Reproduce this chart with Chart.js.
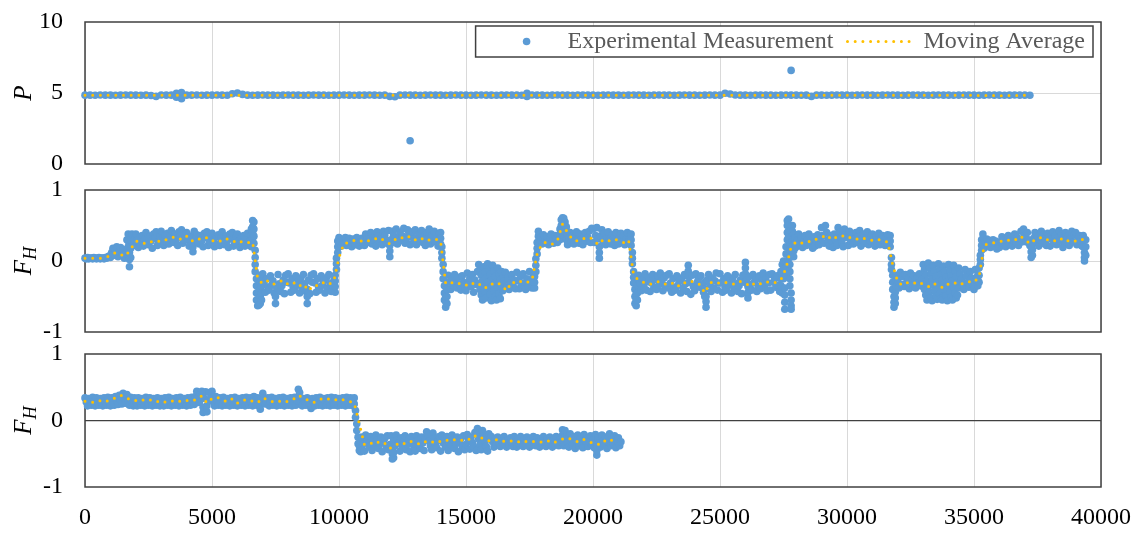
<!DOCTYPE html>
<html>
<head>
<meta charset="utf-8">
<title>P and F_H records</title>
<script src="https://cdn.jsdelivr.net/npm/chart.js@4.4.0/dist/chart.umd.min.js"></script>
<style>
  html, body { margin: 0; padding: 0; background: #ffffff; }
  #wrap { position: relative; width: 1132px; height: 533px; overflow: hidden; }
  #wrap canvas { position: absolute; left: 0; top: 0; }
</style>
</head>
<body>
<div id="wrap">
  <canvas id="cP" width="1132" height="533"></canvas>
  <canvas id="cF1" width="1132" height="533"></canvas>
  <canvas id="cF2" width="1132" height="533"></canvas>
</div>
<script>
// ---- axis ticks and series names ----
const X_TICKS = [0, 5000, 10000, 15000, 20000, 25000, 30000, 35000, 40000];
const X_TICK_LABELS = ['0', '5000', '10000', '15000', '20000', '25000', '30000', '35000', '40000'];
const P_TICKS = [0, 5, 10];
const P_TICK_LABELS = ['0', '5', '10'];
const FH_TICKS = [-1, 0, 1];
const FH_TICK_LABELS = ['-1', '0', '1'];
const SERIES_NAMES = ['Experimental Measurement', 'Moving Average'];

// sample spacing along the x axis
const P_SAMPLE_STEP = 200;
const P_AVG_STEP = 1200;
const FH_SAMPLE_STEP = 50;
const FH_AVG_STEP = 200;

// Measured samples: one entry per bin; a bin holding several readings is a list.
const pMeasured = [
  4.85,4.85,4.84,4.86,4.85,4.85,4.84,4.85,4.86,4.85,
  4.85,4.84,4.85,4.82,4.76,4.86,4.85,4.85,[4.98,4.7],[5.03,4.6],
  4.85,4.85,4.86,4.84,4.85,4.85,4.86,4.85,4.84,4.95,
  5.0,4.9,4.85,4.84,4.85,4.86,4.85,4.85,4.84,4.85,
  4.86,4.85,4.85,4.84,4.85,4.86,4.85,4.85,4.84,4.85,
  4.85,4.86,4.85,4.84,4.85,4.85,4.86,4.85,4.84,4.85,
  4.76,4.74,4.85,4.86,[4.85,1.64],4.85,4.84,4.85,4.86,4.85,
  4.85,4.84,4.85,4.86,4.85,4.85,4.84,4.85,4.86,4.85,
  4.85,4.84,4.85,4.86,4.85,4.85,4.84,[4.98,4.75],4.86,4.85,
  4.85,4.84,4.85,4.86,4.85,4.85,4.84,4.85,4.86,4.85,
  4.85,4.84,4.85,4.86,4.85,4.85,4.84,4.85,4.86,4.85,
  4.85,4.84,4.85,4.86,4.85,4.85,4.84,4.85,4.86,4.85,
  4.85,4.84,4.85,4.86,4.85,4.85,4.98,4.93,4.86,4.85,
  4.85,4.84,4.85,4.86,4.85,4.85,4.84,4.85,4.86,[4.85,6.59],
  4.85,4.84,4.85,4.76,4.85,4.85,4.84,4.85,4.86,4.85,
  4.85,4.84,4.85,4.86,4.85,4.85,4.84,4.85,4.86,4.85,
  4.85,4.84,4.85,4.86,4.85,4.85,4.84,4.85,4.86,4.85,
  4.85,4.84,4.85,4.86,4.85,4.85,4.84,4.85,4.86,4.85,
  4.85,4.84,4.85,4.86,4.85,4.85,4.84
];
const pAverage = [
  4.85,4.85,4.85,4.85,4.85,4.85,4.85,4.85,4.85,4.85,
  4.85,4.85,4.85,4.85,4.85,4.85,4.85,4.85,4.85,4.85,
  4.85,4.85,4.85,4.85,4.85,4.85,4.85,4.85,4.85,4.84,
  4.81,4.84
];

// middle panel, one line per 1000 units of x
const fh1Measured = [
  .04,.03,.05,.03,.04,.04,.03,.05,.04,.03,.04,.05,.03,.04,.04,.03,.05,.04,.06,.07,
  .05,.12,.18,.08,.15,.20,.06,.13,.19,.09,.16,.04,.10,.30,[.38,.28,.2],[-.08,.02,.12],[.05,.18,.3],.38,.22,.30,
  .38,.28,.19,.33,.23,.36,.21,.31,.40,.26,.23,.35,.28,.18,.38,.32,.41,.22,.27,.35,
  .42,.32,.22,.37,.27,.39,.24,.34,.43,.29,.26,.38,.31,.22,.41,.35,.44,.25,.30,.38,
  .40,.30,.21,.35,.25,[.13,.2],.42,.31,.37,.26,.24,.36,.29,.20,.39,.33,.41,.22,.27,.35,
  .39,.29,.20,.34,.24,.37,.22,.32,.41,.27,.23,.35,.28,.19,.38,.32,.40,.21,.26,.34,
  .38,.28,.19,.33,.23,.36,.21,.31,.39,.26,.28,[.45,.36,.2],[.57,.48,.4,.32],[.55,.45,.35,.25],[.15,.05,-.05,-.15],[-.25,-.35,-.45,-.55],[-.63,-.55,-.45,-.35],[-.62,-.52,-.42,-.32],[-.6,-.5,-.4,-.3,-.2],[-.55,-.45,-.35,-.25],
  -.18,-.31,-.44,-.25,-.37,-.41,-.21,-.34,-.28,-.45,[-.6,-.5],-.38,-.19,-.32,-.43,-.35,-.27,-.46,-.20,-.30,
  -.18,-.31,-.44,-.25,-.37,-.41,-.21,-.34,-.28,-.45,-.24,-.38,-.19,-.32,-.43,[-.6,-.5,-.4],-.27,-.46,-.20,-.30,
  -.18,-.31,-.44,-.25,-.37,-.41,-.21,-.34,-.28,-.45,-.24,-.38,-.19,-.32,-.43,-.35,-.27,[-.44,-.36,-.28,-.2],[-.12,-.04,.04],[.12,.2,.28],
  [.33,.25,.2],.27,.21,.30,.24,.33,.22,.28,.32,.25,.20,.31,.26,.23,.33,.29,.21,.27,.32,.24,
  .22,.38,.30,.26,.34,.40,.24,.33,.28,.21,.41,.35,.27,.31,.23,.42,.36,.29,.25,.43,
  [.06,.14,.22],.30,.42,.36,.26,.45,.24,.33,.40,.29,.35,.46,.25,.31,.44,.38,.23,.34,.41,.28,
  .44,.23,.33,.38,.28,.43,.26,.35,.22,.40,.31,.45,.24,.36,.29,.42,.27,.33,.21,.39,
  [.4,.32,.24],[.2,.12,.04],[-.05,-.15,-.25],[-.35,-.45,-.55],[-.65,-.57,-.5],[-.6,-.5,-.4,-.3],-.20,-.30,-.40,-.25,-.35,-.19,-.28,-.38,-.23,-.33,-.41,-.21,-.30,-.36,
  -.42,-.17,-.30,-.24,-.36,-.19,-.44,-.27,-.33,-.15,[-.05,-.32],[-.12,-.40],[-.20,-.48],[-.28,-.55],[-.08,-.36],[-.16,-.44],[-.24,-.52],[-.04,-.30],[-.11,-.38],[-.19,-.47],
  [-.27,-.56],[-.06,-.34],[-.14,-.42],[-.22,-.50],[-.30,-.55],[-.10,-.38],[-.18,-.46],[-.26,-.53],[-.15,-.35],[-.22,-.42],-.28,-.16,-.37,-.24,-.40,-.31,-.19,-.34,-.27,-.39,
  -.16,-.28,-.39,-.22,-.34,-.18,-.31,-.40,-.25,-.36,-.15,-.29,-.38,-.21,[-.38,-.3,-.22],[-.15,-.06,.03],[.1,.18,.26],[.35,.42],.25,.33,
  .24,.37,.30,.27,.34,.23,.32,.38,.28,.25,.36,.31,.26,.35,[.45,.38,.3],[.58,.5,.42],[.61,.53,.45],[.6,.52,.44,.36],[.55,.47,.4],[.48,.4,.3],
  .23,.32,.40,.27,.36,.24,.34,.41,.29,.25,.38,.31,.23,.35,.40,.28,.33,.42,.26,.46,
  .45,.26,.36,.47,.31,[.04,.12,.2],.35,.44,.27,.39,.23,.33,.41,.29,.24,.37,.32,.22,.40,.28,
  .24,.33,.39,.28,.36,.23,.31,.40,.27,.35,[.38,.3,.22],[.12,.04,-.04],[-.15,-.23,-.31],[-.4,-.5,-.6],[-.63,-.55,-.47],[-.55,-.45,-.35,-.25],-.20,-.31,-.42,-.26,
  -.36,-.18,-.41,-.29,-.23,-.43,-.31,-.19,-.37,-.26,-.40,-.21,-.33,-.17,-.28,-.42,-.24,-.35,-.20,-.38,
  -.18,-.31,-.44,-.25,-.37,-.41,-.21,-.34,-.28,-.45,-.24,-.38,-.19,-.32,-.43,[-.06,-.14,-.22],-.30,-.47,-.20,-.36,
  -.42,-.18,-.30,-.25,-.37,-.21,-.34,-.44,[-.5,-.4,-.3],[-.65,-.57,-.5],-.27,-.19,-.33,-.43,-.24,-.38,-.28,-.17,-.41,-.31,
  -.18,-.31,-.44,-.25,-.37,-.41,-.21,-.34,-.28,-.45,-.24,-.38,-.19,-.32,-.43,-.35,-.27,-.46,-.20,-.30,
  [-.02,-.1,-.18],-.27,[-.52,-.44,-.36],-.22,-.33,-.41,-.19,-.30,-.26,-.43,-.36,-.21,-.39,-.28,-.17,-.34,-.24,-.42,-.31,-.19,
  -.41,-.18,-.30,-.25,-.37,-.21,-.34,-.43,[-.15,-.25,-.35],[-.05,-.45,-.25],[-.25,-.12,0],[-.68,-.58,-.48,-.38],[-.2,-.1,0,.1,.2],[.3,.4,.5,.57],[.59,.5,.42,.34],[.25,.15,.05,-.05,-.15,-.25,-.35],[-.45,-.55,-.63,-.68],[.5,.42,.35,.28,.2],[.38,.3,.22,.14,.06],[.32,.24,.18],
  .20,.29,.38,.24,.33,.19,.27,.36,.22,.31,.38,.25,.30,.18,.34,.21,.28,.37,.23,.32,
  .47,.36,.25,.50,.40,.30,.21,.36,.28,.19,.38,.30,.22,.47,.40,.33,.26,.20,.45,.37,
  .33,.22,.42,.28,.37,.24,.31,.40,.26,.35,.43,.21,.30,.38,.25,.34,.41,.23,.29,.36,
  .38,.29,.21,.34,.25,.39,.23,.31,.36,.27,.22,.33,.37,.28,[.36,.28,.2],[.05,-.05,-.12],[-.2,-.3,-.4],[-.5,-.58,-.65],[-.6,-.52,-.44],[-.35,-.27,-.2],
  -.28,-.38,-.16,-.33,-.22,-.36,-.19,-.30,-.25,-.39,-.17,-.27,-.34,-.21,-.38,-.24,-.31,-.18,-.35,-.26,
  [-.05,-.32],[-.12,-.40],[-.20,-.48],[-.28,-.55],[-.03,-.36],[-.10,-.44],[-.18,-.52],[-.26,-.56],[-.06,-.34],[-.14,-.42],[-.22,-.50],[-.30,-.54],[-.04,-.38],[-.11,-.46],[-.19,-.53],[-.27,-.55],[-.07,-.33],[-.15,-.41],[-.23,-.49],[-.29,-.56],
  [-.05,-.35],[-.13,-.43],[-.21,-.51],[-.28,-.55],[-.06,-.37],[-.14,-.45],[-.22,-.52],[-.30,-.48],[-.10,-.38],-.18,-.26,-.34,-.40,-.12,-.21,-.30,-.37,-.15,-.24,-.33,
  -.40,-.12,-.24,[-.35,-.27,-.2],[-.3,-.2,-.1],[-.05,.02,.08],[.15,.22,.3],[.38,.31,.25],.18,.27,.31,.22,.29,.19,.25,.30,.21,.28,.17,.24,
  .19,.27,.34,.23,.30,.20,.28,.36,.24,.32,.21,.29,.38,.25,.33,.22,.31,.42,.27,.45,
  .36,.27,.40,.30,.22,[.05,.13,.2],[.08,.16,.24],.32,.40,.26,.35,.21,.30,.42,.25,.37,.28,.22,.39,.33,
  .21,.31,.41,.26,.36,.23,.33,.43,.28,.38,.19,.30,.40,.25,.35,.22,.32,.42,.27,.37,
  .40,.23,.31,.36,.27,.21,[.36,.28,.2],[.12,.05,0],[.3,.2,.08]
];
const fh1Average = [
  0.04,0.04,0.04,0.04,0.05,0.08,0.12,0.09,0.07,0.17,
  0.28,0.27,0.24,0.27,0.29,0.27,0.30,0.33,0.34,0.30,
  0.35,0.28,0.32,0.30,0.33,0.28,0.30,0.27,0.31,0.29,
  0.25,0.28,0.26,0.27,-0.25,-0.32,-0.28,-0.33,-0.30,-0.27,
  -0.33,-0.30,-0.36,-0.32,-0.42,-0.34,-0.35,-0.30,-0.33,-0.28,
  0.05,0.25,0.26,0.29,0.27,0.30,0.28,0.31,0.33,0.28,
  0.24,0.30,0.34,0.31,0.35,0.30,0.33,0.28,0.30,0.31,
  0.28,-0.32,-0.30,-0.33,-0.31,-0.34,-0.30,-0.35,-0.32,-0.38,
  -0.33,-0.30,-0.34,-0.42,-0.29,-0.32,-0.28,-0.30,-0.27,0.10,
  0.25,0.27,0.24,0.29,0.52,0.40,0.30,0.28,0.31,0.34,
  0.31,0.23,0.30,0.28,0.31,0.29,0.26,0.30,-0.20,-0.27,
  -0.30,-0.33,-0.31,-0.29,-0.32,-0.34,-0.30,-0.36,-0.31,-0.28,
  -0.30,-0.33,-0.45,-0.31,-0.29,-0.32,-0.30,-0.31,-0.33,-0.29,
  -0.31,-0.36,-0.30,-0.32,-0.29,-0.31,-0.30,-0.26,-0.10,0.20,
  0.27,0.25,0.28,0.27,0.31,0.33,0.37,0.30,0.34,0.36,
  0.32,0.34,0.31,0.33,0.30,0.29,0.31,0.28,0.27,-0.05,
  -0.30,-0.34,-0.30,-0.32,-0.29,-0.33,-0.36,-0.31,-0.35,-0.38,
  -0.32,-0.30,-0.34,-0.31,-0.29,-0.30,-0.22,0.22,0.25,0.26,
  0.28,0.27,0.30,0.29,0.35,0.31,0.24,0.30,0.33,0.29,
  0.31,0.28,0.32,0.27,0.30,0.28,0.31,0.29
];

// bottom panel, one line per 1000 units of x
const fh2Measured = [
  .34,.28,.22,.33,.27,.23,.35,.29,.22,.34,.28,.23,.33,.27,.22,.34,.29,.23,.35,.28,
  .22,.34,.28,.23,.36,.30,.24,.38,.31,.25,.41,.33,.26,.39,.30,.23,.35,.28,.22,.34,
  .28,.22,.34,.29,.23,.33,.27,.22,.35,.28,.23,.34,.29,.22,.33,.27,.23,.34,.28,.22,
  .33,.27,.22,.34,.28,.23,.35,.29,.22,.33,.27,.23,.34,.28,.22,.35,.29,.23,.33,.28,
  .22,.34,.29,.23,.35,.28,.24,.36,.44,.34,.27,.40,.44,[.12,.2],.33,.43,[.13,.22],.30,.42,.34,
  .44,.28,.22,.36,.29,.23,.34,.28,.22,.35,.29,.23,.33,.27,.22,.34,.28,.23,.35,.29,
  .22,.33,.28,.23,.34,.29,.22,.35,.28,.23,.34,.27,.22,.36,.30,.23,.34,.29,[.17,.23],.33,
  .41,.33,.25,.28,.34,.22,.29,.35,.23,.28,.33,.22,.29,.34,.23,.28,.35,.22,.29,.33,
  .23,.28,.34,.22,.29,.35,.23,.30,[.47,.36],.42,.28,.22,.33,.28,.23,.34,.29,.22,[.18,.25],.33,
  .28,.22,.34,.29,.23,.35,.28,.22,.33,.29,.23,.34,.28,.22,.35,.29,.23,.34,.28,.22,
  .33,.28,.23,.34,.29,.22,.35,.28,.23,.34,.29,.22,[.34,.25],[.15,.05],[-.05,-.15],[-.25,-.35],[-.45,-.38],[-.47,-.3],[-.42,-.25],-.35,
  -.46,-.22,-.34,-.28,-.40,-.24,-.45,-.31,-.37,-.22,-.29,-.42,-.35,-.25,-.47,-.33,-.27,-.39,-.23,-.44,
  -.36,-.23,[-.58,-.5,-.42],[-.56,-.48,-.3],-.38,-.22,-.30,-.34,-.46,-.26,-.41,-.31,-.23,-.44,-.36,-.28,-.47,-.24,-.33,-.40,
  -.46,-.23,-.30,-.36,-.42,-.25,-.34,-.45,-.28,-.17,-.22,-.31,-.38,-.44,-.19,-.27,-.35,-.41,-.30,-.24,
  -.46,-.22,-.34,-.28,-.40,-.24,-.45,-.31,-.37,-.22,-.29,-.42,-.35,-.25,-.47,-.33,-.27,-.39,-.23,-.44,
  -.36,-.21,-.29,-.43,-.25,-.33,-.39,-.18,-.45,[-.12,-.2],-.28,-.36,-.44,-.15,-.23,-.31,-.39,-.46,-.20,-.28,
  -.24,-.32,-.40,-.28,-.36,-.25,-.33,-.39,-.27,-.35,-.24,-.31,-.40,-.29,-.37,-.26,-.34,-.39,-.24,-.32,
  -.40,-.28,-.36,-.24,-.33,-.39,-.27,-.35,-.25,-.31,-.40,-.29,-.37,-.24,-.34,-.38,-.26,-.32,-.40,-.28,
  -.36,-.24,-.33,-.39,-.27,-.35,-.25,-.31,-.40,-.29,-.37,-.24,-.34,-.38,-.26,-.32,[-.14,-.22,-.3],-.38,[-.15,-.25,-.35],-.28,
  -.33,-.40,-.20,-.28,-.36,-.24,-.42,-.31,-.22,-.38,-.27,-.35,-.41,-.21,-.30,-.26,-.39,-.33,-.23,-.37,
  -.29,-.41,-.21,[-.52,-.45,-.38],-.27,-.34,-.40,-.22,-.30,-.36,-.25,-.42,-.32,-.20,-.38,-.28,-.35,-.23,-.41,-.31,
  -.26,-.38,-.32
];
const fh2Average = [
  0.29,0.28,0.27,0.30,0.28,0.32,0.34,0.38,0.35,0.31,
  0.30,0.32,0.29,0.31,0.28,0.30,0.27,0.29,0.31,0.28,
  0.30,0.29,0.32,0.37,0.26,0.33,0.35,0.31,0.28,0.33,
  0.26,0.30,0.32,0.29,0.27,0.34,0.31,0.28,0.30,0.27,
  0.29,0.32,0.38,0.34,0.30,0.27,0.31,0.34,0.32,0.30,
  0.33,0.31,0.29,0.26,-0.05,-0.36,-0.33,-0.36,-0.31,-0.34,
  -0.42,-0.38,-0.33,-0.35,-0.31,-0.33,-0.36,-0.32,-0.34,-0.30,
  -0.32,-0.29,-0.31,-0.28,-0.30,-0.27,-0.29,-0.22,-0.26,-0.30,
  -0.31,-0.29,-0.32,-0.30,-0.31,-0.33,-0.30,-0.32,-0.31,-0.33,
  -0.32,-0.30,-0.34,-0.31,-0.28,-0.26,-0.29,-0.32,-0.28,-0.31,
  -0.34,-0.36,-0.30,-0.33,-0.28,-0.31
];

// ---- styling ----
const FONT = '"Liberation Serif", "Times New Roman", serif';
const BLUE = '#5b9bd5';
const GOLD = '#ffc000';
const GRID = '#d9d9d9';
const FRAME = '#404040';
const W = 1132, H = 533;
const PLOT_LEFT = 85, PLOT_RIGHT = 1101;

// turn binned readings into {x, y} points
function binsToPoints(bins, step) {
  const pts = [];
  bins.forEach((b, i) => {
    (Array.isArray(b) ? b : [b]).forEach(v => pts.push({ x: i * step, y: v }));
  });
  return pts;
}

// box around each plot area, under the markers
const framePlugin = {
  id: 'plotFrame',
  beforeDatasetsDraw(chart) {
    const { ctx, chartArea: a } = chart;
    ctx.save();
    ctx.strokeStyle = FRAME;
    ctx.lineWidth = 1.5;
    ctx.strokeRect(a.left, a.top, a.right - a.left, a.bottom - a.top);
    ctx.restore();
  }
};

// rotated italic axis title with optional subscript
const axisTitlePlugin = {
  id: 'axisTitle',
  afterDraw(chart, args, opts) {
    const { ctx, chartArea: a } = chart;
    const cy = (a.top + a.bottom) / 2;
    const mainFont = 'italic 25px ' + FONT;
    const subFont = 'italic 18px ' + FONT;
    ctx.save();
    ctx.translate(opts.x, cy);
    ctx.rotate(-Math.PI / 2);
    ctx.fillStyle = '#000';
    ctx.textBaseline = 'alphabetic';
    ctx.textAlign = 'left';
    ctx.font = mainFont;
    const w1 = ctx.measureText(opts.text).width;
    let w2 = 0;
    if (opts.sub) { ctx.font = subFont; w2 = ctx.measureText(opts.sub).width; }
    const start = -(w1 + w2) / 2;
    ctx.font = mainFont;
    ctx.fillText(opts.text, start, 0);
    if (opts.sub) { ctx.font = subFont; ctx.fillText(opts.sub, start + w1, 5); }
    ctx.restore();
  }
};

// boxed legend in the top-right corner of the first panel
const boxLegendPlugin = {
  id: 'boxLegend',
  afterDraw(chart) {
    const { ctx, chartArea: a } = chart;
    ctx.save();
    ctx.font = '24px ' + FONT;
    const w1 = ctx.measureText(SERIES_NAMES[0]).width;
    const w2 = ctx.measureText(SERIES_NAMES[1]).width;
    const boxRight = a.right - 8, boxTop = a.top + 4, boxH = 31;
    const cy = boxTop + boxH / 2;
    const t2 = boxRight - 8 - w2;
    const lineEnd = t2 - 11, lineStart = lineEnd - 65;
    const t1 = lineStart - 14 - w1;
    const mx = t1 - 41;
    const boxLeft = mx - 51;
    ctx.fillStyle = '#ffffff';
    ctx.fillRect(boxLeft, boxTop, boxRight - boxLeft, boxH);
    ctx.strokeStyle = FRAME;
    ctx.lineWidth = 1.5;
    ctx.strokeRect(boxLeft, boxTop, boxRight - boxLeft, boxH);
    ctx.fillStyle = BLUE;
    ctx.beginPath();
    ctx.arc(mx, cy, 3.8, 0, Math.PI * 2);
    ctx.fill();
    ctx.strokeStyle = GOLD;
    ctx.lineWidth = 3;
    ctx.lineCap = 'round';
    ctx.setLineDash([0, 7.7]);
    ctx.beginPath();
    ctx.moveTo(lineStart, cy);
    ctx.lineTo(lineEnd, cy);
    ctx.stroke();
    ctx.setLineDash([]);
    ctx.fillStyle = '#595959';
    ctx.textBaseline = 'middle';
    ctx.textAlign = 'left';
    ctx.fillText(SERIES_NAMES[0], t1, cy);
    ctx.fillText(SERIES_NAMES[1], t2, cy);
    ctx.restore();
  }
};

const panels = [
  { id: 'cP', top: 22, bottom: 164, min: 0, max: 10, ticks: P_TICKS, labels: P_TICK_LABELS,
    mid: 5, midColor: GRID, title: 'P', sub: '',
    measured: binsToPoints(pMeasured, P_SAMPLE_STEP), average: binsToPoints(pAverage, P_AVG_STEP),
    showX: false, legend: true },
  { id: 'cF1', top: 190, bottom: 332, min: -1, max: 1, ticks: FH_TICKS, labels: FH_TICK_LABELS,
    mid: 0, midColor: GRID, title: 'F', sub: 'H',
    measured: binsToPoints(fh1Measured, FH_SAMPLE_STEP), average: binsToPoints(fh1Average, FH_AVG_STEP),
    showX: false, legend: false },
  { id: 'cF2', top: 354, bottom: 487, min: -1, max: 1, ticks: FH_TICKS, labels: FH_TICK_LABELS,
    mid: 0, midColor: FRAME, title: 'F', sub: 'H',
    measured: binsToPoints(fh2Measured, FH_SAMPLE_STEP), average: binsToPoints(fh2Average, FH_AVG_STEP),
    showX: true, legend: false }
];

function build() {
  Chart.defaults.font.family = FONT;
  panels.forEach(p => {
    const plugins = [framePlugin, axisTitlePlugin];
    if (p.legend) plugins.push(boxLegendPlugin);
    new Chart(document.getElementById(p.id), {
      type: 'scatter',
      data: {
        datasets: [
          { label: SERIES_NAMES[1], data: p.average, showLine: true, borderColor: GOLD,
            borderWidth: 3, borderDash: [0, 7.7], borderCapStyle: 'round', borderJoinStyle: 'round',
            pointRadius: 0, tension: 0, order: 0, clip: false },
          { label: SERIES_NAMES[0], data: p.measured, backgroundColor: BLUE, borderWidth: 0,
            pointRadius: 3.8, pointHoverRadius: 3.8, order: 1, clip: false }
        ]
      },
      options: {
        responsive: false,
        animation: false,
        devicePixelRatio: 1,
        events: [],
        layout: { padding: { top: p.top, bottom: p.showX ? 0 : H - p.bottom, left: 0, right: W - PLOT_RIGHT } },
        plugins: {
          legend: { display: false },
          tooltip: { enabled: false },
          axisTitle: { text: p.title, sub: p.sub, x: 31 }
        },
        scales: {
          x: {
            type: 'linear', min: 0, max: 40000,
            afterBuildTicks: s => { s.ticks = X_TICKS.map(v => ({ value: v })); },
            afterFit: s => {
              s.height = p.showX ? H - p.bottom : 0;
              s.paddingLeft = 0; s.paddingRight = 0; s.paddingTop = 0; s.paddingBottom = 0;
            },
            grid: { color: GRID, lineWidth: 1, drawTicks: false },
            border: { display: false },
            ticks: { display: p.showX, padding: 16, color: '#000', font: { size: 24 },
                     maxRotation: 0, autoSkip: false, callback: (v, i) => X_TICK_LABELS[i] }
          },
          y: {
            type: 'linear', min: p.min, max: p.max,
            afterBuildTicks: s => { s.ticks = p.ticks.map(v => ({ value: v })); },
            afterFit: s => {
              s.width = PLOT_LEFT;
              s.paddingLeft = 0; s.paddingRight = 0; s.paddingTop = 0; s.paddingBottom = 0;
            },
            grid: { color: c => (c.tick && c.tick.value === p.mid) ? p.midColor : 'rgba(0,0,0,0)',
                    lineWidth: c => (c.tick && c.tick.value === p.mid && p.midColor === FRAME) ? 1.3 : 1,
                    drawTicks: false },
            border: { display: false },
            ticks: { padding: 22, color: '#000', font: { size: 24 }, callback: (v, i) => p.labels[i] }
          }
        }
      },
      plugins: plugins
    });
  });
}

const fontsReady = (document.fonts && document.fonts.load)
  ? Promise.all([document.fonts.load('24px "Liberation Serif"'), document.fonts.load('italic 25px "Liberation Serif"')]).catch(() => {})
  : Promise.resolve();
fontsReady.then(build);
</script>
</body>
</html>
